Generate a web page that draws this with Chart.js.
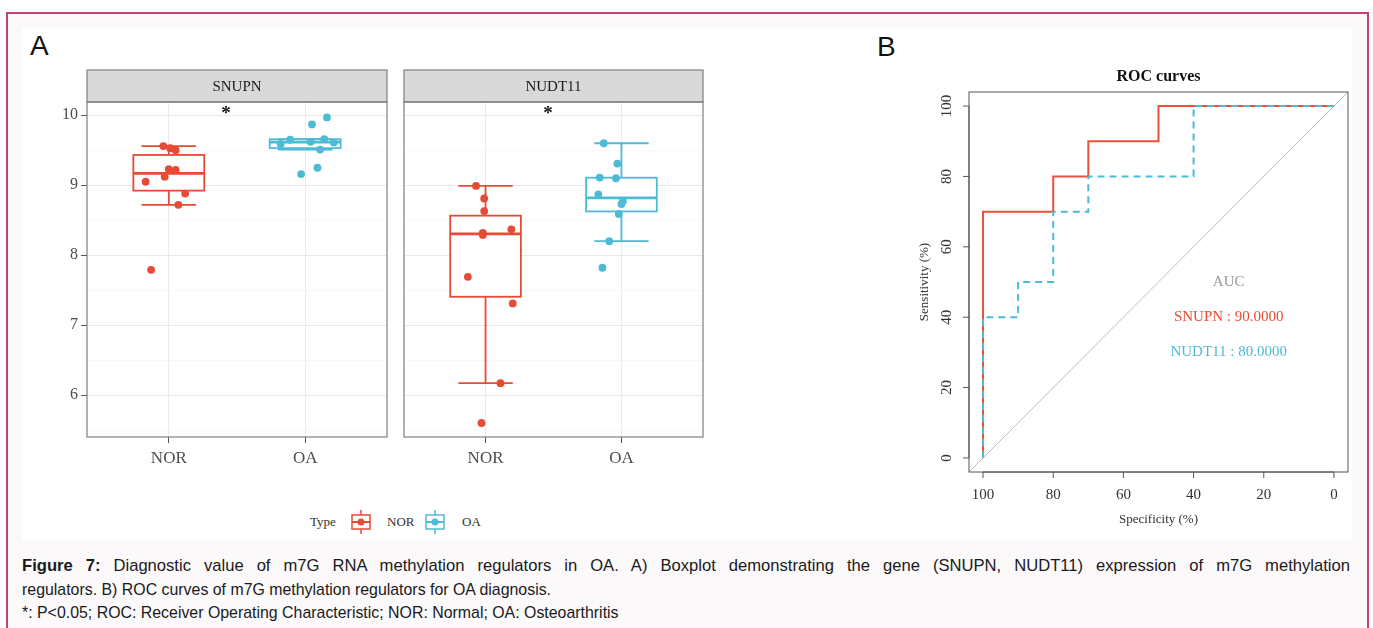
<!DOCTYPE html>
<html>
<head>
<meta charset="utf-8">
<script src="https://cdn.jsdelivr.net/npm/chart.js@4.4.1/dist/chart.umd.min.js"></script>
<style>
body { margin: 0; width: 1373px; height: 628px; overflow: hidden; position: relative; background: #fff; font-family: "Liberation Sans", Arial, sans-serif; }
#frame { position: absolute; left: 6px; top: 12px; width: 1359px; height: 640px; border: 2px solid #c2436c; background: #fbf9fa; }
#fig { position: absolute; left: 22px; top: 28px; width: 1330px; height: 512px; background: #fff; }
canvas { position: absolute; }
.panel { position: absolute; font-size: 28px; color: #111; line-height: 28px; }
#legend { position: absolute; left: 310px; top: 510px; height: 24px; font-family: "Liberation Serif", serif; font-size: 13px; color: #333; }
#legend span, #legend svg { position: absolute; top: 0; }
#legend span { line-height: 24px; }
.cap { position: absolute; left: 22px; width: 1328px; font-size: 15.9px; line-height: 20px; color: #1a1a1a; white-space: nowrap; }
</style>
</head>
<body>
<div id="frame"></div>
<div id="fig"></div>
<div class="panel" style="left:30px;top:32px">A</div>
<div class="panel" style="left:877px;top:33px">B</div>
<canvas id="facet1" width="370" height="420" style="left:30px;top:60px"></canvas>
<canvas id="facet2" width="320" height="420" style="left:400px;top:60px"></canvas>
<canvas id="roc" width="490" height="500" style="left:880px;top:40px"></canvas>
<div id="legend">
  <span style="left:0">Type</span>
  <svg style="left:40px" width="22" height="24"><line x1="11" y1="0" x2="11" y2="5" stroke="#e64b35" stroke-width="1.5"/><line x1="11" y1="19" x2="11" y2="24" stroke="#e64b35" stroke-width="1.5"/><rect x="2" y="5" width="18" height="14" fill="#fff" stroke="#e64b35" stroke-width="1.5"/><line x1="2" y1="12" x2="20" y2="12" stroke="#e64b35" stroke-width="2"/><circle cx="11" cy="12" r="3.5" fill="#e64b35"/></svg>
  <span style="left:77px">NOR</span>
  <svg style="left:114px" width="22" height="24"><line x1="11" y1="0" x2="11" y2="5" stroke="#4dbbd5" stroke-width="1.5"/><line x1="11" y1="19" x2="11" y2="24" stroke="#4dbbd5" stroke-width="1.5"/><rect x="2" y="5" width="18" height="14" fill="#fff" stroke="#4dbbd5" stroke-width="1.5"/><line x1="2" y1="12" x2="20" y2="12" stroke="#4dbbd5" stroke-width="2"/><circle cx="11" cy="12" r="3.5" fill="#4dbbd5"/></svg>
  <span style="left:152px">OA</span>
</div>
<div class="cap" style="top:556px;font-size:16.6px;text-align:justify;text-align-last:justify"><b>Figure 7:</b> Diagnostic value of m7G RNA methylation regulators in OA. A) Boxplot demonstrating the gene (SNUPN, NUDT11) expression of m7G methylation</div>
<div class="cap" style="top:580px">regulators. B) ROC curves of m7G methylation regulators for OA diagnosis.</div>
<div class="cap" style="top:603px">*: P&lt;0.05; ROC: Receiver Operating Characteristic; NOR: Normal; OA: Osteoarthritis</div>

<script>
// data
const groups = ['NOR', 'OA'];
const genes = ['SNUPN', 'NUDT11'];

const snupnNOR = [9.56, 9.53, 9.50, 9.23, 9.22, 9.12, 9.05, 8.88, 8.72, 7.79];
const snupnNORJitter = [-0.04, 0.01, 0.05, 0.0, 0.05, -0.03, -0.17, 0.12, 0.07, -0.13];
const snupnOA = [9.97, 9.87, 9.65, 9.66, 9.62, 9.61, 9.59, 9.51, 9.25, 9.16];
const snupnOAJitter = [0.16, 0.05, -0.11, 0.14, 0.04, 0.21, -0.18, 0.11, 0.09, -0.03];

const nudt11NOR = [8.99, 8.81, 8.63, 8.32, 8.29, 8.37, 7.69, 7.31, 6.17, 5.60];
const nudt11NORJitter = [-0.07, -0.01, -0.01, -0.02, -0.02, 0.19, -0.13, 0.2, 0.11, -0.03];
const nudt11OA = [9.60, 9.31, 9.11, 9.10, 8.87, 8.73, 8.77, 8.59, 8.20, 7.82];
const nudt11OAJitter = [-0.13, -0.03, -0.16, -0.04, -0.17, 0.0, 0.01, -0.02, -0.09, -0.14];

const exprTicks = [6, 7, 8, 9, 10];
const sigLabels = ['*', '*'];

const rocTicks = [0, 20, 40, 60, 80, 100];
const snupnSpec = [100, 100, 80, 80, 70, 70, 50, 50, 0];
const snupnSens = [0, 70, 70, 80, 80, 90, 90, 100, 100];
const nudt11Spec = [100, 100, 90, 90, 80, 80, 70, 70, 40, 40, 0];
const nudt11Sens = [0, 40, 40, 50, 50, 70, 70, 80, 80, 100, 100];
const aucValues = [90, 80];

const RED = '#e64b35';
const BLUE = '#4dbbd5';
const SERIF = '"Liberation Serif", "Times New Roman", serif';

// R type 7 quantile
function quantile(s, p) {
    const h = (s.length - 1) * p;
    const lo = Math.floor(h);
    const hiV = s[Math.min(lo + 1, s.length - 1)];
    return s[lo] + (h - lo) * (hiV - s[lo]);
}

function boxStats(vals) {
    const s = [...vals].sort((a, b) => a - b);
    const q1 = quantile(s, 0.25), med = quantile(s, 0.5), q3 = quantile(s, 0.75);
    const iqr = q3 - q1;
    const lo = s.find(v => v >= q1 - 1.5 * iqr);
    const hi = [...s].reverse().find(v => v <= q3 + 1.5 * iqr);
    return { lo, q1, med, q3, hi };
}

const boxPlugin = {
    id: 'boxes',
    beforeDatasetsDraw(chart, args, opts) {
        const { ctx, scales: { x, y } } = chart;
        opts.series.forEach((vals, i) => {
            const st = boxStats(vals);
            const c = i + 1;
            const cx = x.getPixelForValue(c);
            const bl = x.getPixelForValue(c - 0.26), br = x.getPixelForValue(c + 0.26);
            const wl = x.getPixelForValue(c - 0.2), wr = x.getPixelForValue(c + 0.2);
            const col = opts.colors[i];
            ctx.save();
            ctx.strokeStyle = col;
            ctx.lineWidth = 1.8;
            // whiskers
            ctx.beginPath();
            ctx.moveTo(cx, y.getPixelForValue(st.q3)); ctx.lineTo(cx, y.getPixelForValue(st.hi));
            ctx.moveTo(cx, y.getPixelForValue(st.q1)); ctx.lineTo(cx, y.getPixelForValue(st.lo));
            ctx.moveTo(wl, y.getPixelForValue(st.hi)); ctx.lineTo(wr, y.getPixelForValue(st.hi));
            ctx.moveTo(wl, y.getPixelForValue(st.lo)); ctx.lineTo(wr, y.getPixelForValue(st.lo));
            ctx.stroke();
            // box
            const top = y.getPixelForValue(st.q3), bot = y.getPixelForValue(st.q1);
            ctx.fillStyle = '#fff';
            ctx.fillRect(bl, top, br - bl, bot - top);
            ctx.strokeRect(bl, top, br - bl, bot - top);
            ctx.lineWidth = 2.8;
            ctx.beginPath();
            ctx.moveTo(bl, y.getPixelForValue(st.med)); ctx.lineTo(br, y.getPixelForValue(st.med));
            ctx.stroke();
            ctx.restore();
        });
    },
    afterDraw(chart, args, opts) {
        const { ctx, chartArea: a, scales: { x, y } } = chart;
        ctx.save();
        // strip
        ctx.fillStyle = '#d9d9d9';
        ctx.fillRect(a.left, a.top - 32, a.right - a.left, 32);
        ctx.strokeStyle = '#7f7f7f';
        ctx.lineWidth = 1.2;
        ctx.strokeRect(a.left, a.top - 32, a.right - a.left, 32);
        ctx.fillStyle = '#1a1a1a';
        ctx.font = '15px ' + SERIF;
        ctx.textAlign = 'center';
        ctx.textBaseline = 'middle';
        ctx.fillText(opts.title, (a.left + a.right) / 2, a.top - 15);
        // panel border
        ctx.strokeRect(a.left, a.top, a.right - a.left, a.bottom - a.top);
        // significance mark
        ctx.fillStyle = '#111';
        ctx.font = 'bold 19px ' + SERIF;
        ctx.fillText(opts.sig, x.getPixelForValue(opts.sigX), y.getPixelForValue(10.06) + 3);
        ctx.restore();
    }
};

function facet(id, title, sig, sigX, nor, norJ, oa, oaJ, showY, padL, padR, yWidth) {
    const pts = (vals, jit, c) => vals.map((v, k) => ({ x: c + jit[k], y: v }));
    new Chart(document.getElementById(id), {
        type: 'scatter',
        data: {
            datasets: [
                { data: pts(nor, norJ, 1), backgroundColor: RED, borderWidth: 0, pointRadius: 3.9 },
                { data: pts(oa, oaJ, 2), backgroundColor: BLUE, borderWidth: 0, pointRadius: 3.9 }
            ]
        },
        options: {
            responsive: false,
            animation: false,
            events: [],
            layout: { padding: { left: padL, right: padR, top: 42, bottom: 0 } },
            plugins: {
                legend: { display: false },
                tooltip: { enabled: false },
                boxes: { series: [nor, oa], colors: [RED, BLUE], title: title, sig: sig, sigX: sigX }
            },
            scales: {
                x: {
                    type: 'linear', min: 0.4, max: 2.6,
                    afterBuildTicks: s => { s.ticks = groups.map((g, i) => ({ value: i + 1 })); },
                    afterFit: s => { s.height = 43; },
                    ticks: {
                        callback: v => groups[v - 1],
                        font: { family: SERIF, size: 17 }, color: '#4d4d4d',
                        padding: 5, autoSkip: false, maxRotation: 0
                    },
                    grid: { color: '#ebebeb', lineWidth: 1, tickLength: 6, tickColor: '#555' },
                    border: { display: false }
                },
                y: {
                    min: 5.4, max: 10.19,
                    afterBuildTicks: s => {
                        const t = [];
                        exprTicks.forEach(v => { t.push({ value: v - 0.5 }); t.push({ value: v }); });
                        s.ticks = t;
                    },
                    afterFit: s => { s.width = yWidth; },
                    ticks: {
                        display: showY,
                        callback: v => Number.isInteger(v) ? v : '',
                        font: { family: SERIF, size: 16 }, color: '#4d4d4d',
                        padding: 3, autoSkip: false
                    },
                    grid: {
                        drawTicks: showY,
                        tickLength: 6,
                        color: c => Number.isInteger(c.tick && c.tick.value) ? '#e8e8e8' : '#f4f4f4',
                        lineWidth: c => Number.isInteger(c.tick && c.tick.value) ? 1 : 0.7,
                        tickColor: c => Number.isInteger(c.tick && c.tick.value) ? '#555' : 'rgba(0,0,0,0)'
                    },
                    border: { display: false }
                }
            }
        },
        plugins: [boxPlugin]
    });
}

facet('facet1', genes[0], sigLabels[0], 1.42, snupnNOR, snupnNORJitter, snupnOA, snupnOAJitter, true, 0, 13, 57);
facet('facet2', genes[1], sigLabels[1], 1.46, nudt11NOR, nudt11NORJitter, nudt11OA, nudt11OAJitter, false, 0, 17, 2);

// ROC panel
const xy = (xs, ys) => xs.map((v, i) => ({ x: v, y: ys[i] }));
const chanceSpec = [110, -10];

const rocAxes = {
    id: 'rocAxes',
    afterDraw(chart) {
        const { ctx, chartArea: a, scales: { x, y } } = chart;
        ctx.save();
        ctx.strokeStyle = '#555';
        ctx.lineWidth = 1;
        ctx.strokeRect(a.left, a.top, a.right - a.left, a.bottom - a.top);
        ctx.fillStyle = '#333';
        ctx.font = '15px ' + SERIF;
        ctx.textAlign = 'center';
        ctx.textBaseline = 'middle';
        // x axis
        ctx.beginPath();
        ctx.moveTo(x.getPixelForValue(100), a.bottom); ctx.lineTo(x.getPixelForValue(0), a.bottom);
        rocTicks.forEach(v => {
            const px = x.getPixelForValue(v);
            ctx.moveTo(px, a.bottom); ctx.lineTo(px, a.bottom + 6);
        });
        // y axis
        ctx.moveTo(a.left, y.getPixelForValue(0)); ctx.lineTo(a.left, y.getPixelForValue(100));
        rocTicks.forEach(v => {
            const py = y.getPixelForValue(v);
            ctx.moveTo(a.left, py); ctx.lineTo(a.left - 6, py);
        });
        ctx.stroke();
        rocTicks.forEach(v => ctx.fillText(String(v), x.getPixelForValue(v), a.bottom + 23));
        rocTicks.forEach(v => {
            ctx.save();
            ctx.translate(a.left - 22, y.getPixelForValue(v));
            ctx.rotate(-Math.PI / 2);
            ctx.fillText(String(v), 0, 0);
            ctx.restore();
        });
        // titles
        ctx.font = '13px ' + SERIF;
        ctx.fillText('Specificity (%)', (a.left + a.right) / 2, a.bottom + 48);
        ctx.save();
        ctx.translate(a.left - 44, (a.top + a.bottom) / 2);
        ctx.rotate(-Math.PI / 2);
        ctx.fillText('Sensitivity (%)', 0, 0);
        ctx.restore();
        ctx.font = 'bold 16px ' + SERIF;
        ctx.fillStyle = '#111';
        ctx.fillText('ROC curves', (a.left + a.right) / 2, a.top - 15);
        // AUC legend
        ctx.font = '15px ' + SERIF;
        ctx.fillStyle = '#9a9a9a';
        ctx.fillText('AUC', x.getPixelForValue(30), y.getPixelForValue(50));
        ctx.fillStyle = RED;
        ctx.fillText(genes[0] + ' : ' + aucValues[0].toFixed(4), x.getPixelForValue(30), y.getPixelForValue(40));
        ctx.fillStyle = BLUE;
        ctx.fillText(genes[1] + ' : ' + aucValues[1].toFixed(4), x.getPixelForValue(30), y.getPixelForValue(30));
        ctx.restore();
    }
};

new Chart(document.getElementById('roc'), {
    type: 'scatter',
    data: {
        datasets: [
            { data: xy(nudt11Spec, nudt11Sens), showLine: true, borderColor: BLUE, borderWidth: 2, borderDash: [7, 5], pointRadius: 0, order: 0 },
            { data: xy(snupnSpec, snupnSens), showLine: true, borderColor: '#e8513e', borderWidth: 2, pointRadius: 0, order: 1 },
            { data: xy(chanceSpec, chanceSpec.map(v => 100 - v)), showLine: true, borderColor: '#bdbdbd', borderWidth: 1, pointRadius: 0, order: 2 }
        ]
    },
    options: {
        responsive: false,
        animation: false,
        events: [],
        layout: { padding: { left: 89, right: 22, top: 52, bottom: 68 } },
        plugins: { legend: { display: false }, tooltip: { enabled: false } },
        scales: {
            x: { display: false, min: -4, max: 104, reverse: true },
            y: { display: false, min: -4, max: 104 }
        }
    },
    plugins: [rocAxes]
});
</script>
</body>
</html>
